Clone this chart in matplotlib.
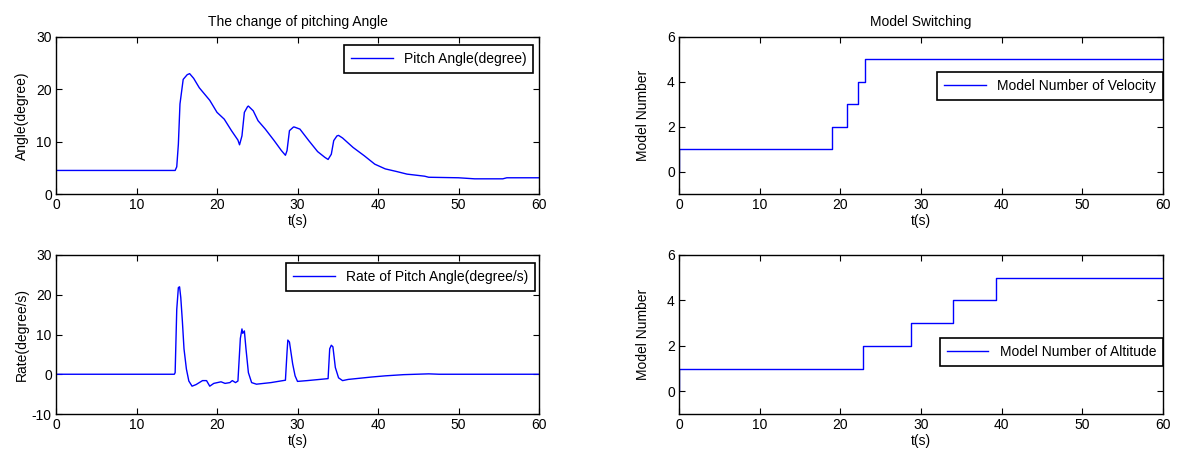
import matplotlib
matplotlib.use("Agg")
import matplotlib.pyplot as plt

plt.rcParams['font.family'] = ['Liberation Sans', 'DejaVu Sans']
plt.rcParams['font.size'] = 10
plt.rcParams['axes.unicode_minus'] = False

# ---- Data ----
pitch_t = [0, 14.8, 15.0, 15.2, 15.4, 15.8, 16.3, 16.6, 17.1, 17.8, 19.1, 20.0, 20.9, 21.8, 22.6, 22.8,
           23.1, 23.4, 23.8, 23.9, 24.5, 25.1, 26.0, 27.1, 28.0, 28.5,
           28.7, 29.0, 29.5, 29.6, 30.3, 31.4, 32.5, 33.4, 33.8,
           34.2, 34.5, 34.9, 35.1, 35.6, 36.9, 38.3, 39.6, 40.9, 42.3, 43.6, 45.8, 46.3,
           50.0, 52.0, 55.5, 56.0, 60.0]
pitch_v = [4.5, 4.5, 5.2, 9.5, 17.2, 21.9, 22.8, 23.0, 22.1, 20.3, 17.9, 15.6, 14.3, 12.1, 10.3, 9.4,
           11.1, 15.6, 16.7, 16.8, 15.9, 14.0, 12.4, 10.2, 8.3, 7.4,
           8.3, 12.1, 12.8, 12.8, 12.4, 10.2, 8.1, 7.0, 6.6,
           7.6, 10.2, 11.1, 11.2, 10.7, 8.9, 7.3, 5.7, 4.8, 4.3, 3.8, 3.4, 3.2,
           3.1, 2.9, 2.9, 3.1, 3.1]

rate_t = [0, 14.7, 14.8, 15.0, 15.2, 15.35, 15.5, 15.7, 15.9, 16.2, 16.5, 16.9, 17.4, 18.2,
          18.7, 19.1, 19.6, 20.5, 21.0, 21.6, 21.9, 22.3, 22.6,
          22.9, 23.1, 23.2, 23.4, 23.6, 23.9, 24.3, 24.9, 26.7, 28.5,
          28.7, 28.8, 29.0, 29.4, 29.7, 30.0, 31.2, 33.8,
          34.0, 34.2, 34.4, 34.7, 35.1, 35.6, 36.3, 39.2, 40.9, 43.2, 46.3, 47.6, 60.0]
rate_v = [0, 0, 0.4, 16.3, 21.8, 22.0, 19.3, 13.3, 6.4, 1.3, -1.7, -3.0, -2.6, -1.6,
          -1.6, -3.0, -2.3, -1.9, -2.3, -2.1, -1.6, -2.1, -1.7,
          9.0, 11.4, 10.3, 10.9, 6.4, 0.4, -2.1, -2.5, -2.1, -1.5,
          5.6, 8.6, 8.1, 2.6, -0.4, -1.8, -1.6, -1.1,
          6.4, 7.3, 6.9, 1.7, -0.9, -1.6, -1.3, -0.7, -0.4, -0.1, 0.1, 0.0, 0.0]

vel_t = [0, 0, 19.0, 20.8, 22.2, 23.1, 60]
vel_model = [0, 1, 2, 3, 4, 5, 5]

alt_t = [0, 0, 22.8, 28.7, 34.0, 39.3, 60]
alt_model = [0, 1, 2, 3, 4, 5, 5]

x_ticks = [0, 10, 20, 30, 40, 50, 60]

W, H = 1178, 455
fig = plt.figure(figsize=(W / 100, H / 100), dpi=100)

def make_ax(x0, y0, x1, y1):
    return fig.add_axes([x0 / W, 1 - y1 / H, (x1 - x0) / W, (y1 - y0) / H])

ax1 = make_ax(56, 37, 539, 194)
ax2 = make_ax(679, 37, 1163, 194)
ax3 = make_ax(56, 255, 539, 414)
ax4 = make_ax(679, 255, 1163, 414)

blue = '#0000ff'
ax1.plot(pitch_t, pitch_v, color=blue, lw=1, label='Pitch Angle(degree)')
ax3.plot(rate_t, rate_v, color=blue, lw=1, label='Rate of Pitch Angle(degree/s)')
ax2.plot(vel_t, vel_model, color=blue, lw=1, drawstyle='steps-post', label='Model Number of Velocity')
ax4.plot(alt_t, alt_model, color=blue, lw=1, drawstyle='steps-post', label='Model Number of Altitude')

ax1.set_ylim(0, 30); ax1.set_yticks([0, 10, 20, 30])
ax3.set_ylim(-10, 30); ax3.set_yticks([-10, 0, 10, 20, 30])
for ax in (ax2, ax4):
    ax.set_ylim(-1, 6); ax.set_yticks([0, 2, 4, 6])

for ax in (ax1, ax2, ax3, ax4):
    ax.set_xlim(0, 60)
    ax.set_xticks(x_ticks)
    ax.tick_params(direction='in', top=True, right=True, length=4, width=0.8, labelsize=10, pad=3)
    for s in ax.spines.values():
        s.set_linewidth(1.0)
    ax.set_xlabel('t(s)', labelpad=1)

ax1.set_ylabel('Angle(degree)', labelpad=5)
ax3.set_ylabel('Rate(degree/s)', labelpad=2)
ax2.set_ylabel('Model Number', labelpad=12)
ax4.set_ylabel('Model Number', labelpad=12)

ax1.set_title('The change of pitching Angle', fontsize=10, pad=8)
ax2.set_title('Model Switching', fontsize=10, pad=8)

def leg(ax, x, y):
    l = ax.legend(loc='upper right', bbox_to_anchor=(x, y), bbox_transform=ax.transAxes,
                  borderaxespad=0, fancybox=False, framealpha=1, edgecolor='black',
                  handlelength=3.0, fontsize=10, borderpad=0.5, handletextpad=0.8)
    l.get_frame().set_linewidth(1.2)

leg(ax1, 0.988, 0.947)
leg(ax3, 0.992, 0.951)
leg(ax2, 1.0, 0.777)
leg(ax4, 1.0, 0.476)

fig.savefig('out.png', dpi=100)
